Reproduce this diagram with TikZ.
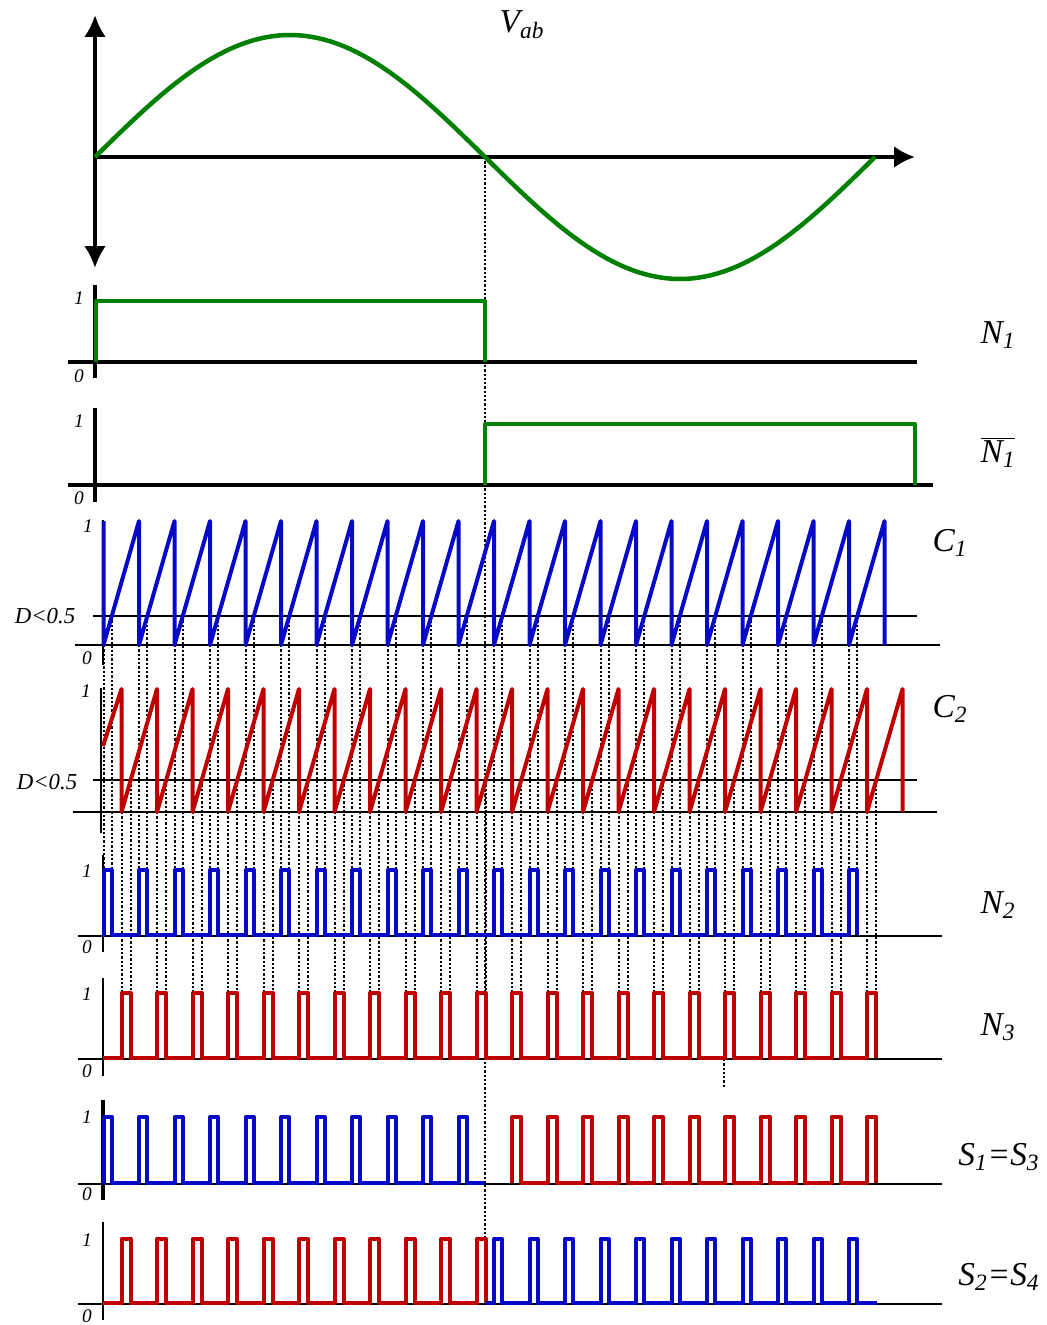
\documentclass[tikz,border=0pt]{standalone}
\usepackage{fontspec}
\setmainfont{Liberation Serif}
\usepackage{tikz}
\usetikzlibrary{arrows.meta,calc,positioning}
\definecolor{wblue}{RGB}{8,8,200}
\definecolor{wred}{RGB}{192,0,0}
\definecolor{wgreen}{RGB}{0,128,0}

\begin{document}
\begin{tikzpicture}[x=0.02cm, y=-0.02cm,
    axis/.style={line width=0.08cm},
    thinaxis/.style={line width=0.045cm},
    wave/.style={line width=0.08cm, line join=round},
    dotline/.style={line width=0.04cm, dash pattern=on 0.045cm off 0.04cm},
    lbl/.style={font=\fontsize{19}{22}\selectfont\itshape},
    dlbl/.style={font=\fontsize{13}{15}\selectfont\itshape},
    ticklbl/.style={font=\fontsize{11}{13}\selectfont\itshape}]
  \useasboundingbox (0,0) rectangle (1046,1325);
  \def\per{35.5}
  \def\ca{103.5}
  \def\cb{121.5}
  \def\wa{8.3}
  \def\wb{9.2}
  % dotted guide lines
  \draw[dotline, line width=0.03cm] (485,157) -- (485,1237);
  \draw[dotline] (724,1059) -- (724,1088);
  \foreach \k in {0,...,21}
    {
      \draw[dotline] ({\ca+\k*\per},645) -- ({\ca+\k*\per},870);
      \draw[dotline] ({\ca+\k*\per+\wa},616) -- ({\ca+\k*\per+\wa},870);
      \draw[dotline] ({\cb+\k*\per},812) -- ({\cb+\k*\per},993);
      \draw[dotline] ({\cb+\k*\per+\wb},780) -- ({\cb+\k*\per+\wb},993);
    }
  % Vab axes and sine
  \draw[axis, {Latex[length=0.44cm,width=0.44cm]}-{Latex[length=0.44cm,width=0.44cm]}] (95,268) -- (95,15);
  \draw[axis, -{Latex[length=0.42cm,width=0.44cm]}] (95,157) -- (915,157);
  \draw[wgreen, line width=0.09cm] plot[domain=0:360, samples=120] ({95+\x*2.16667},{157-122*sin(\x)});
  \node[lbl] (vab) at (522,25) {V\textsubscript{ab}};
  % N1
  \draw[axis] (95,285) -- (95,378);
  \draw[axis] (68,362) -- (917,362);
  \draw[wave, wgreen] (96,362) -- (96,301) -- (485,301) -- (485,362);
  \node[ticklbl] (n1one) at (79,298) {1};
  \node[ticklbl] (n1zero) at (79,376) {0};
  \node[lbl] (n1) at (998,335) {N\textsubscript{1}};
  % N1 bar
  \draw[axis] (95,408) -- (95,502);
  \draw[axis] (68,485) -- (933,485);
  \draw[wave, wgreen] (485,485) -- (485,424) -- (915,424) -- (915,485);
  \node[ticklbl] (nbone) at (79,421) {1};
  \node[ticklbl] (nbzero) at (79,498) {0};
  \node[lbl] (n1bar) at (998,452) {$\overline{\mbox{N\textsubscript{1}}}$};
  % C1 carrier
  \draw[thinaxis] (103,520) -- (103,665);
  \draw[thinaxis] (75,645) -- (940,645);
  \draw[thinaxis] (93,616) -- (917,616);
  \draw[wave, wblue] (\ca,521) -- (\ca,645)
    \foreach \k in {1,...,22} { -- ({\ca+\k*\per},521) -- ({\ca+\k*\per},645) };
  \node[ticklbl] (c1one) at (88,526) {1};
  \node[ticklbl] (c1zero) at (87,658) {0};
  \node[dlbl] (d1) at (45,616) {D<0.5};
  \node[lbl] (c1) at (950,543) {C\textsubscript{1}};
  % C2 carrier
  \draw[thinaxis] (101,688) -- (101,833);
  \draw[thinaxis] (73,812) -- (937,812);
  \draw[thinaxis] (93,780) -- (917,780);
  \draw[wave, wred] (103,746) -- (\cb,689) -- (\cb,812)
    \foreach \k in {1,...,22} { -- ({\cb+\k*\per},689) -- ({\cb+\k*\per},812) };
  \node[ticklbl] (c2one) at (86,691) {1};
  \node[dlbl] (d2) at (47,782) {D<0.5};
  \node[lbl] (c2) at (950,709) {C\textsubscript{2}};
  % N2
  \draw[thinaxis] (103,855) -- (103,952);
  \draw[thinaxis] (78,936) -- (942,936);
  \draw[wave, wblue] (103,935)
    \foreach \k in {0,...,21} { -- ({\ca+\k*\per},935) -- ({\ca+\k*\per},870) -- ({\ca+\k*\per+\wa},870) -- ({\ca+\k*\per+\wa},935) };
  \node[ticklbl] (n2one) at (87,871) {1};
  \node[ticklbl] (n2zero) at (87,947) {0};
  \node[lbl] (n2) at (998,905) {N\textsubscript{2}};
  % N3
  \draw[thinaxis] (103,978) -- (103,1076);
  \draw[thinaxis] (78,1059) -- (942,1059);
  \draw[wave, wred] (103,1058)
    \foreach \k in {0,...,21} { -- ({\cb+\k*\per},1058) -- ({\cb+\k*\per},993) -- ({\cb+\k*\per+\wb},993) -- ({\cb+\k*\per+\wb},1058) };
  \node[ticklbl] (n3one) at (87,994) {1};
  \node[ticklbl] (n3zero) at (87,1071) {0};
  \node[lbl] (n3) at (998,1027) {N\textsubscript{3}};
  % S1=S3
  \draw[axis] (103,1100) -- (103,1200);
  \draw[thinaxis] (78,1184) -- (942,1184);
  \draw[wave, wblue] (103,1183)
    \foreach \k in {0,...,10} { -- ({\ca+\k*\per},1183) -- ({\ca+\k*\per},1117) -- ({\ca+\k*\per+\wa},1117) -- ({\ca+\k*\per+\wa},1183) }
    -- (485,1183);
  \draw[wave, wred] ({\cb+11*\per},1183)
    \foreach \k in {11,...,21} { -- ({\cb+\k*\per},1183) -- ({\cb+\k*\per},1117) -- ({\cb+\k*\per+\wb},1117) -- ({\cb+\k*\per+\wb},1183) };
  \node[ticklbl] (s1one) at (87,1117) {1};
  \node[ticklbl] (s1zero) at (87,1194) {0};
  \node[lbl] (s1) at (999,1157) {S\textsubscript{1}=S\textsubscript{3}};
  % S2=S4
  \draw[thinaxis] (103,1222) -- (103,1320);
  \draw[thinaxis] (78,1304) -- (942,1304);
  \draw[wave, wred] (103,1303)
    \foreach \k in {0,...,10} { -- ({\cb+\k*\per},1303) -- ({\cb+\k*\per},1239) -- ({\cb+\k*\per+\wb},1239) -- ({\cb+\k*\per+\wb},1303) };
  \draw[wave, wblue] (486,1303)
    \foreach \k in {11,...,21} { -- ({\ca+\k*\per},1303) -- ({\ca+\k*\per},1239) -- ({\ca+\k*\per+\wa},1239) -- ({\ca+\k*\per+\wa},1303) }
    -- (877,1303);
  \node[ticklbl] (s2one) at (87,1240) {1};
  \node[ticklbl] (s2zero) at (87,1316) {0};
  \node[lbl] (s2) at (999,1277) {S\textsubscript{2}=S\textsubscript{4}};
\end{tikzpicture}
\end{document}
